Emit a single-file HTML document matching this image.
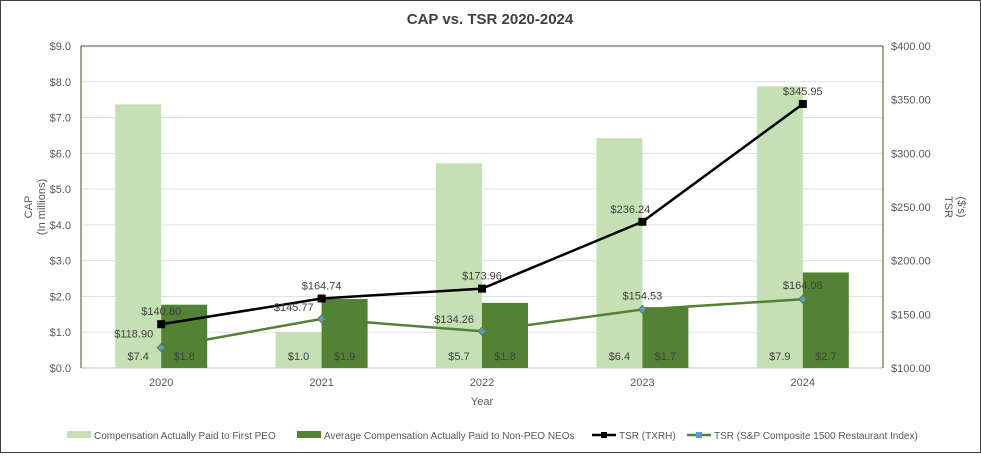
<!DOCTYPE html>
<html><head><meta charset="utf-8"><style>
body{margin:0;background:#fff;font-family:"Liberation Sans",sans-serif}
svg text{font-family:"Liberation Sans",sans-serif}
</style></head><body>
<svg id="chart" width="981" height="453" xmlns="http://www.w3.org/2000/svg">
<rect x="0.5" y="0.5" width="980" height="452" fill="#fff" stroke="#404040"/>
<text x="490" y="24" text-anchor="middle" font-size="15" font-weight="bold" fill="#404040">CAP vs. TSR 2020-2024</text>
<text transform="translate(945,207) rotate(90)" text-anchor="middle" font-size="11" fill="#595959">TSR</text>
<text transform="translate(958,207) rotate(90)" text-anchor="middle" font-size="11" fill="#595959">($'s)</text>
<g id="plot"></g>
</svg>
<script>
const years=["2020","2021","2022","2023","2024"];
const peoCap=[7.37,1.0,5.72,6.42,7.87];
const peoLabels=["$7.4","$1.0","$5.7","$6.4","$7.9"];
const neoCap=[1.77,1.93,1.82,1.70,2.67];
const neoLabels=["$1.8","$1.9","$1.8","$1.7","$2.7"];
const tsrTxrh=[140.80,164.74,173.96,236.24,345.95];
const tsrIndex=[118.90,145.77,134.26,154.53,164.08];
const leftTicks=[0,1,2,3,4,5,6,7,8,9];
const rightTicks=[100,150,200,250,300,350,400];
const L=81,R=883,T=46,B=368,NS="http://www.w3.org/2000/svg";
const g=document.getElementById('plot');
const band=(R-L)/years.length;
const xC=i=>L+band*(i+0.5);
const yL=v=>B-(v/9)*(B-T);
const yR=v=>B-((v-100)/300)*(B-T);
function mk(t,a,txt){const e=document.createElementNS(NS,t);for(const k in a)e.setAttribute(k,a[k]);if(txt!==undefined)e.textContent=txt;g.appendChild(e);return e;}
leftTicks.forEach(v=>{
 const ln=mk('line',{x1:L,x2:R,y1:yL(v),y2:yL(v),stroke:v===0?'#bfbfbf':'#e0e0e0'});
 
 
 const t=mk('text',{x:L-10,y:yL(v)+4,'text-anchor':'end','font-size':11,fill:'#595959'},'$'+v.toFixed(1));
 
 
});
rightTicks.forEach(v=>{
 const t=mk('text',{x:R+8,y:yR(v)+4,'font-size':11,fill:'#595959'},'$'+v.toFixed(2));
 
 
});
const fr=mk('line',{x1:L,x2:L,y1:T,y2:B,stroke:'#375623'});
const fr2=mk('line',{x1:R,x2:R,y1:T,y2:B,stroke:'#375623'});
const fr3=mk('line',{x1:L,x2:R,y1:T,y2:T,stroke:'#375623'});
const bw=46;
years.forEach((y,i)=>{
 const c=xC(i);
 const b1=mk('rect',{x:c-bw,y:yL(peoCap[i]),width:bw,height:B-yL(peoCap[i]),fill:'#c5e0b4'});
 
 
 const b2=mk('rect',{x:c,y:yL(neoCap[i]),width:bw,height:B-yL(neoCap[i]),fill:'#548235'});
 
 
 const l1=mk('text',{x:c-bw/2,y:B-8,'text-anchor':'middle','font-size':11,fill:'#404040'},peoLabels[i]);
 
 
 const l2=mk('text',{x:c+bw/2,y:B-8,'text-anchor':'middle','font-size':11,fill:'#404040'},neoLabels[i]);
 
 
 const xl=mk('text',{x:c,y:B+18,'text-anchor':'middle','font-size':11,fill:'#595959'},y);
 
 
});
const p1=mk('polyline',{points:tsrIndex.map((v,i)=>xC(i)+','+yR(v)).join(' '),fill:'none',stroke:'#548235','stroke-width':2.5});


const p2=mk('polyline',{points:tsrTxrh.map((v,i)=>xC(i)+','+yR(v)).join(' '),fill:'none',stroke:'#000','stroke-width':2.5});


tsrIndex.forEach((v,i)=>{
 const x=xC(i),y=yR(v);
 const m=mk('polygon',{points:`${x},${y-4} ${x+4},${y} ${x},${y+4} ${x-4},${y}`,fill:'#5b9bd5',stroke:'#548235'});
 
 
 const t=mk('text',{x:x-8,y:y-8,'text-anchor':'end','font-size':11,fill:'#404040'},'$'+v.toFixed(2));
 if(i===0){t.setAttribute('y',y-10);}
 if(i>=3){t.setAttribute('text-anchor','middle');t.setAttribute('x',x);t.setAttribute('y',y-10);}
 
 
});
tsrTxrh.forEach((v,i)=>{
 const x=xC(i),y=yR(v);
 const m=mk('rect',{x:x-4,y:y-4,width:8,height:8,fill:'#000'});
 
 
 const t=mk('text',{x:i===3?x-12:x,y:y-9,'text-anchor':'middle','font-size':11,fill:'#404040'},'$'+v.toFixed(2));
 
 
});
const yt=mk('text',{transform:`translate(38,207) rotate(-90)`,'text-anchor':'middle','font-size':11,fill:'#595959'});


yt.innerHTML='<tspan x="0" dy="-6">CAP</tspan><tspan x="0" dy="13">(In millions)</tspan>';
const xt=mk('text',{x:482,y:405,'text-anchor':'middle','font-size':11,fill:'#595959'},'Year');


const leg=[{x:67,t:'Compensation Actually Paid to First PEO',k:'b',c:'#c5e0b4'},{x:297,t:'Average Compensation Actually Paid to Non-PEO NEOs',k:'b',c:'#548235'},{x:592,t:'TSR (TXRH)',k:'l',c:'#000'},{x:687,t:'TSR (S&P Composite 1500 Restaurant Index)',k:'l',c:'#548235'}];
leg.forEach(e=>{
 const y=435;
 if(e.k==='b'){const r=mk('rect',{x:e.x,y:y-4,width:24,height:7,fill:e.c});}
 else{const l=mk('line',{x1:e.x,x2:e.x+24,y1:y,y2:y,stroke:e.c,'stroke-width':2.5});
  const m=mk('rect',{x:e.x+9,y:y-3,width:6,height:6,fill:e.c==='#000'?'#000':'#5b9bd5'});}
 const t=mk('text',{x:e.x+27,y:y+4,'font-size':10,fill:'#595959'},e.t);
 
 
});
</script>
</body></html>
